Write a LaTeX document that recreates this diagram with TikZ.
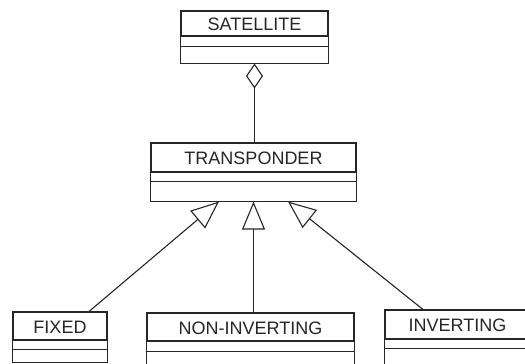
\documentclass[tikz,border=0pt]{standalone}
\usepackage{fontspec}
\setmainfont{Liberation Sans}
\usetikzlibrary{arrows.meta}
\definecolor{ink}{gray}{0.15}
\tikzset{
  namebox/.style={draw=ink, line width=1.1pt, inner sep=0pt, text=ink,
    font=\fontsize{18}{18}\selectfont, text height=14.5pt, text depth=0pt},
  part/.style={draw=ink, line width=1.1pt},
  aggregation/.style={draw=ink, line width=1.1pt,
    -{Diamond[open, length=25pt, width=17pt, line width=1.1pt]}},
  inherits/.style={draw=ink, line width=1.1pt,
    -{Triangle[open, length=28pt, width=23pt, line width=1.1pt]}}
}
\begin{document}
\begin{tikzpicture}[x=1pt, y=-1pt]
  \clip (0,0) rectangle (525,364);
  \fill[white] (0,0) rectangle (525,364);

  % SATELLITE class: name, attribute and operation compartments
  \node[namebox, minimum width=147pt, minimum height=25pt] (sat) at (254.5,23.5) {SATELLITE};
  \draw[part] (sat.south west) rectangle ([yshift=-10pt]sat.south east);
  \draw[part] ([yshift=-10pt]sat.south west) rectangle ([yshift=-27pt]sat.south east);
  \coordinate (satbot) at ([yshift=-27pt]sat.south);

  % TRANSPONDER class
  \node[namebox, minimum width=205pt, minimum height=29pt] (tr) at (253.5,157.5) {TRANSPONDER};
  \draw[part] (tr.south west) rectangle ([yshift=-9pt]tr.south east);
  \draw[part] ([yshift=-9pt]tr.south west) rectangle ([yshift=-29pt]tr.south east);
  \coordinate (trbot) at ([yshift=-29pt]tr.south);

  % FIXED class
  \node[namebox, minimum width=94pt, minimum height=28pt] (fix) at (60,326) {FIXED};
  \draw[part] (fix.south west) rectangle ([yshift=-9pt]fix.south east);
  \draw[part] ([yshift=-9pt]fix.south west) rectangle ([yshift=-22pt]fix.south east);

  % NON-INVERTING class
  \node[namebox, minimum width=207pt, minimum height=28pt] (nin) at (250.5,327) {NON-INVERTING};
  \draw[part] (nin.south west) rectangle ([yshift=-10pt]nin.south east);
  \draw[part] ([yshift=-10pt]nin.south west) rectangle ([yshift=-40pt]nin.south east);

  % INVERTING class
  \node[namebox, minimum width=145pt, minimum height=29pt] (inv) at (457.5,324.5) {INVERTING};
  \draw[part] (inv.south west) rectangle ([yshift=-9pt]inv.south east);
  \draw[part] ([yshift=-9pt]inv.south west) rectangle ([yshift=-40pt]inv.south east);

  % aggregation: a satellite holds transponders
  \draw[aggregation] (tr.north -| satbot) -- (satbot);

  % generalisation: the three transponder kinds
  \draw[inherits] ([xshift=29pt]fix.north) -- ([xshift=-34.5pt]trbot);
  \draw[inherits] (trbot |- nin.north) -- (trbot);
  \draw[inherits] ([xshift=-34.5pt]inv.north) -- ([xshift=34.5pt]trbot);
\end{tikzpicture}
\end{document}
